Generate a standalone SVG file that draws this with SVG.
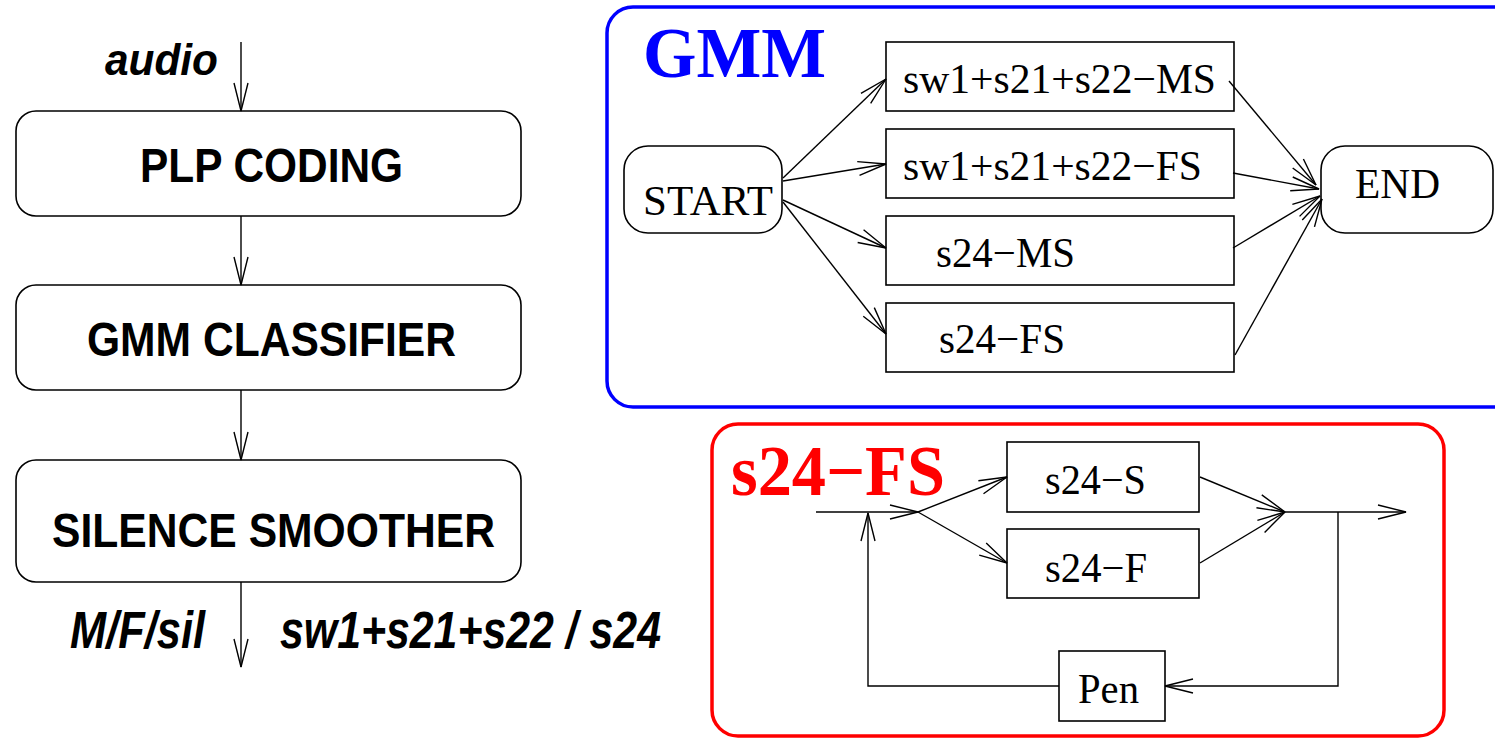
<svg xmlns="http://www.w3.org/2000/svg" width="1495" height="738" viewBox="0 0 1495 738">
<style>
.box{fill:#fff;stroke:#000;stroke-width:1.6}
.ln{fill:none;stroke:#000;stroke-width:1.4}
.arr{marker-end:url(#ah)}
.sans{font-family:"Liberation Sans",Arial,sans-serif;font-weight:bold;fill:#000}
.it{font-style:italic}
.serif{font-family:"Liberation Serif","Times New Roman",serif;fill:#000}
</style>
<defs>
<marker id="ah" markerUnits="userSpaceOnUse" markerWidth="40" markerHeight="20" refX="0" refY="0" orient="auto" overflow="visible">
<path d="M-28,-7 L0,0 L-28,7" fill="none" stroke="#000" stroke-width="1.4"/>
</marker>
</defs>
<rect width="1495" height="738" fill="#fff"/>

<g id="left-labels">
<text class="sans it" x="105" y="75" font-size="44" textLength="113" lengthAdjust="spacingAndGlyphs">audio</text>
<text class="sans it" x="70" y="648" font-size="51" textLength="135" lengthAdjust="spacingAndGlyphs">M/F/sil</text>
<text class="sans it" x="280" y="648" font-size="51" textLength="381" lengthAdjust="spacingAndGlyphs">sw1+s21+s22 / s24</text>
</g>
<g id="plp">
<rect class="box" x="16" y="111" width="505" height="105" rx="20"/>
<text class="sans" x="140" y="182" font-size="49" textLength="263" lengthAdjust="spacingAndGlyphs">PLP CODING</text>
</g>
<g id="gmmclass">
<rect class="box" x="16" y="285" width="505" height="105" rx="20"/>
<text class="sans" x="87" y="356" font-size="49" textLength="369" lengthAdjust="spacingAndGlyphs">GMM CLASSIFIER</text>
</g>
<g id="silence">
<rect class="box" x="16" y="460" width="505" height="122" rx="20"/>
<text class="sans" x="52" y="547" font-size="49" textLength="443" lengthAdjust="spacingAndGlyphs">SILENCE SMOOTHER</text>
</g>

<g id="gmm-frame">
<rect x="607" y="7" width="920" height="400" rx="26" fill="none" stroke="#0000ff" stroke-width="3.5"/>
<text x="643" y="77" font-family="'Liberation Serif','Times New Roman',serif" font-weight="bold" font-size="71" fill="#0000ff" textLength="183" lengthAdjust="spacingAndGlyphs">GMM</text>
</g>
<g id="start">
<rect class="box" x="624" y="146" width="158" height="87" rx="24"/>
<text class="serif" x="643" y="215" font-size="42" textLength="130" lengthAdjust="spacingAndGlyphs">START</text>
</g>
<g id="end">
<rect class="box" x="1321" y="146" width="172" height="87" rx="24"/>
<text class="serif" x="1355" y="198" font-size="42" textLength="85" lengthAdjust="spacingAndGlyphs">END</text>
</g>
<g id="ms1">
<rect class="box" x="886" y="42" width="348" height="69"/>
<text class="serif" x="903" y="93" font-size="42" textLength="313" lengthAdjust="spacingAndGlyphs">sw1+s21+s22−MS</text>
</g>
<g id="fs1">
<rect class="box" x="886" y="129" width="348" height="69"/>
<text class="serif" x="903" y="180" font-size="42" textLength="299" lengthAdjust="spacingAndGlyphs">sw1+s21+s22−FS</text>
</g>
<g id="ms24">
<rect class="box" x="886" y="216" width="348" height="69"/>
<text class="serif" x="936" y="267" font-size="42" textLength="139" lengthAdjust="spacingAndGlyphs">s24−MS</text>
</g>
<g id="fs24">
<rect class="box" x="886" y="303" width="348" height="69"/>
<text class="serif" x="939" y="353" font-size="42" textLength="126" lengthAdjust="spacingAndGlyphs">s24−FS</text>
</g>

<g id="s24fs-frame">
<rect x="712" y="424" width="732" height="312" rx="26" fill="none" stroke="#ff0000" stroke-width="3.5"/>
<text x="731" y="495" font-family="'Liberation Serif','Times New Roman',serif" font-weight="bold" font-size="71" fill="#ff0000" textLength="214" lengthAdjust="spacingAndGlyphs">s24−FS</text>
</g>
<g id="s24s">
<rect class="box" x="1007" y="442" width="192" height="70"/>
<text class="serif" x="1045" y="494" font-size="42" textLength="101" lengthAdjust="spacingAndGlyphs">s24−S</text>
</g>
<g id="s24f">
<rect class="box" x="1007" y="529" width="192" height="69"/>
<text class="serif" x="1045" y="582" font-size="42" textLength="102" lengthAdjust="spacingAndGlyphs">s24−F</text>
</g>
<g id="pen">
<rect class="box" x="1059" y="651" width="106" height="70"/>
<text class="serif" x="1078" y="703" font-size="42" textLength="61" lengthAdjust="spacingAndGlyphs">Pen</text>
</g>

<g id="connectors">
<line class="ln arr" x1="241" y1="42" x2="241" y2="111"/>
<line class="ln arr" x1="241" y1="216" x2="241" y2="285"/>
<line class="ln arr" x1="241" y1="390" x2="241" y2="460"/>
<line class="ln arr" x1="241" y1="582" x2="241" y2="667"/>

<line class="ln arr" x1="783" y1="178" x2="886" y2="79"/>
<line class="ln arr" x1="783" y1="181" x2="886" y2="164"/>
<line class="ln arr" x1="783" y1="200" x2="886" y2="248"/>
<line class="ln arr" x1="783" y1="202" x2="886" y2="334"/>

<line class="ln arr" x1="1229" y1="81" x2="1316" y2="185"/>
<line class="ln arr" x1="1233" y1="173" x2="1319" y2="189"/>
<line class="ln arr" x1="1233" y1="248" x2="1320" y2="196"/>
<line class="ln arr" x1="1235" y1="355" x2="1322" y2="199"/>

<line class="ln arr" x1="816" y1="512" x2="918" y2="512"/>
<line class="ln arr" x1="918" y1="512" x2="1007" y2="477"/>
<line class="ln arr" x1="918" y1="512" x2="1007" y2="563"/>
<line class="ln arr" x1="1200" y1="477" x2="1285" y2="512"/>
<line class="ln arr" x1="1200" y1="563" x2="1285" y2="512"/>
<line class="ln arr" x1="1285" y1="512" x2="1406" y2="512"/>
<polyline class="ln arr" points="1338,512 1338,686 1165,686"/>
<polyline class="ln arr" points="1059,686 868,686 868,513"/>
</g>
</svg>
